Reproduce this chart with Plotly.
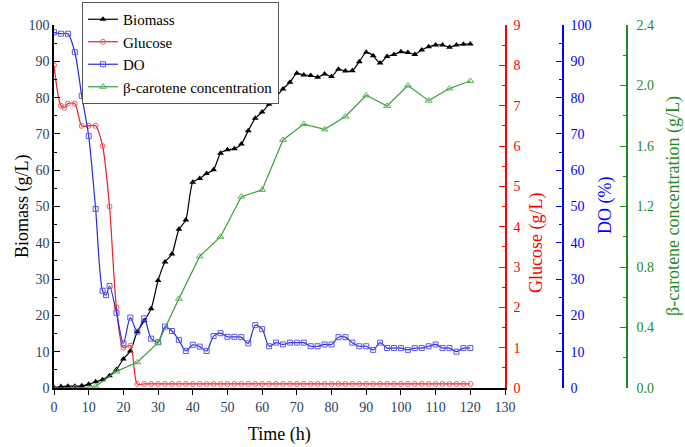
import plotly.graph_objects as go

# ---------------- data ----------------
biomass_t = [0, 2, 4, 6, 8, 10, 12, 14, 16, 18, 20, 22, 24, 26, 28, 30, 32, 34, 36, 38, 40,
             42, 44, 46, 48, 50, 52, 54, 56, 58, 60, 62, 64, 66, 68, 70, 72, 74, 76, 78, 80,
             82, 84, 86, 88, 90, 92, 94, 96, 98, 100, 102, 104, 106, 108, 110, 112, 114, 116, 118, 120]
biomass = [0.2, 0.4, 0.5, 0.5, 0.6, 1.0, 1.7, 2.3, 3.4, 5.1, 8.0, 10.2, 15.5, 18.5, 21.8, 29.6, 34.7, 36.9, 43.7, 46.3, 56.7,
           57.7, 59.1, 60.1, 64.7, 65.6, 65.9, 67.2, 70.9, 74.3, 76.0, 78.2, 80.2, 82.4, 84.2, 86.7, 86.2, 86.1, 85.6, 86.5, 85.8,
           87.8, 87.3, 87.4, 89.9, 92.5, 91.5, 89.5, 91.3, 91.9, 92.6, 92.4, 91.9, 93.1, 94.0, 94.5, 94.5, 93.9, 94.5, 94.7, 94.8]

glucose_t = [0, 2, 3, 4, 6, 8, 10, 12, 14, 16, 18, 20, 22, 24] + list(range(26, 121, 2))
glucose = [8.0, 7.0, 6.95, 7.05, 7.05, 6.5, 6.5, 6.5, 6.0, 4.5, 2.0, 1.0, 1.05, 0.1] + [0.1] * len(range(26, 121, 2))

do_t = [0, 2, 4, 6, 8, 10, 12, 14, 15, 16, 18, 20, 22, 24, 26, 28, 30, 32, 34, 36, 38, 40,
        42, 44, 46, 48, 50, 52, 54, 56, 58, 60, 62, 64, 66, 68, 70, 72, 74, 76, 78, 80,
        82, 84, 86, 88, 90, 92, 94, 96, 98, 100, 102, 104, 106, 108, 110, 112, 114, 116, 118, 120]
do = [98.0, 97.6, 97.6, 92.5, 80.5, 69.4, 49.3, 26.8, 25.6, 28.1, 20.7, 12.3, 19.4, 15.5, 19.2, 13.6, 12.6, 16.9, 15.7, 13.2, 10.2, 11.9,
      11.4, 10.2, 14.3, 15.1, 14.1, 14.1, 14.0, 12.3, 17.3, 16.2, 11.5, 12.5, 12.0, 12.5, 12.5, 12.5, 11.5, 11.5, 12.0, 12.0,
      14.0, 14.0, 12.5, 11.5, 11.5, 10.5, 12.5, 11.0, 11.0, 11.0, 10.5, 11.0, 11.0, 11.5, 12.0, 11.0, 11.0, 10.0, 11.0, 11.0]

carotene_t = [0, 6, 12, 18, 24, 30, 36, 42, 48, 54, 60, 66, 72, 78, 84, 90, 96, 102, 108, 114, 120]
carotene = [0.0, 0.0, 0.01, 0.11, 0.17, 0.30, 0.59, 0.87, 1.0, 1.265, 1.31, 1.64, 1.745, 1.71, 1.795, 1.935, 1.865, 2.0, 1.9, 1.98, 2.03]

x_ticks = list(range(0, 131, 10))

# ---------------- styling ----------------
FONT = "Liberation Serif"
RED = "#ff0000"
BLUE = "#0000ff"
GREEN = "#1f8a1f"

W, H = 685, 447
ML, MR, MT, MB = 54, 58, 1, 59
PW = W - ML - MR
PH = H - MT - MB
PLOT_TOP = 25
x_end = (505 - ML) / PW
y_top = (H - MB - PLOT_TOP) / PH
blue_pos = (563 - ML) / PW
green_pos = 1.0


def px_x(px):
    return (px - ML) / PW


def px_y(py):
    return (H - MB - py) / PH


fig = go.Figure()
fig.add_trace(go.Scatter(x=biomass_t, y=biomass, name="Biomass", mode="lines+markers",
                         line=dict(color="black", width=1.2, shape="spline", smoothing=0.6),
                         marker=dict(symbol="triangle-up", size=6, color="black"), yaxis="y"))
fig.add_trace(go.Scatter(x=glucose_t, y=glucose, name="Glucose", mode="lines+markers",
                         line=dict(color="#e8202a", width=1.2, shape="spline", smoothing=0.8),
                         marker=dict(symbol="circle-open", size=5, color="#e86060", line=dict(width=1)), yaxis="y2"))
fig.add_trace(go.Scatter(x=do_t, y=do, name="DO", mode="lines+markers",
                         line=dict(color="#2a2ae0", width=1.2, shape="spline", smoothing=0.8),
                         marker=dict(symbol="square-open", size=5, color="#5a5ae8", line=dict(width=1)), yaxis="y3"))
fig.add_trace(go.Scatter(x=carotene_t, y=carotene, name="β-carotene concentration", mode="lines+markers",
                         line=dict(color="#3a9e3a", width=1.2),
                         marker=dict(symbol="triangle-up-open", size=6, color="#5ab05a", line=dict(width=1)), yaxis="y4"))

tickfont = dict(family=FONT, size=14)

fig.update_layout(
    width=W, height=H,
    margin=dict(l=ML, r=MR, t=MT, b=MB, autoexpand=False),
    paper_bgcolor="white", plot_bgcolor="white",
    showlegend=True,
    legend=dict(x=px_x(82), y=px_y(2), xanchor="left", yanchor="top",
                bordercolor="#555555", borderwidth=1, bgcolor="white",
                font=dict(family=FONT, size=15, color="black"), itemwidth=30,
                tracegroupgap=0),
    xaxis=dict(domain=[0, x_end], range=[0, 130], tickvals=x_ticks, ticks="outside", ticklen=5,
               tickwidth=1.2, showline=True, linecolor="black", linewidth=1.5, mirror=False,
               showgrid=False, zeroline=False, tickfont=tickfont, tickcolor="black"),
    yaxis=dict(domain=[0, y_top], range=[0, 100], dtick=10, ticks="inside", ticklen=6, tickwidth=1.2,
               minor=dict(dtick=5, ticks="inside", ticklen=3, tickcolor="black"),
               showline=True, linecolor="black", linewidth=1.5, showgrid=False, zeroline=False,
               tickfont=tickfont, tickcolor="black"),
    yaxis2=dict(range=[0, 9], dtick=1, overlaying="y", side="right", anchor="x",
                ticks="inside", ticklen=6, tickwidth=1.2, tickcolor=RED,
                minor=dict(dtick=0.5, ticks="inside", ticklen=3, tickcolor=RED),
                showline=True, linecolor=RED, linewidth=1.5, showgrid=False, zeroline=False,
                tickfont=dict(family=FONT, size=14, color=RED), ticklabelstandoff=4),
    yaxis3=dict(range=[0, 100], dtick=10, overlaying="y", side="right", anchor="free", position=blue_pos,
                ticks="inside", ticklen=6, tickwidth=1.2, tickcolor=BLUE,
                minor=dict(dtick=5, ticks="inside", ticklen=3, tickcolor=BLUE),
                showline=True, linecolor=BLUE, linewidth=1.5, showgrid=False, zeroline=False,
                tickfont=dict(family=FONT, size=14, color=BLUE), ticklabelstandoff=4),
    yaxis4=dict(range=[0, 2.4], dtick=0.4, tickformat=".1f", overlaying="y", side="right", anchor="free",
                position=green_pos,
                ticks="inside", ticklen=6, tickwidth=1.2, tickcolor=GREEN,
                minor=dict(dtick=0.2, ticks="inside", ticklen=3, tickcolor=GREEN),
                showline=True, linecolor=GREEN, linewidth=1.5, showgrid=False, zeroline=False,
                tickfont=dict(family=FONT, size=14, color=GREEN), ticklabelstandoff=6),
)

title_font = 18


def add_title(text, px, py, color, angle):
    fig.add_annotation(text=text, x=px_x(px), y=px_y(py), xref="paper", yref="paper",
                       xanchor="center", yanchor="middle", textangle=angle, showarrow=False,
                       font=dict(family=FONT, size=title_font, color=color))


add_title("Biomass (g/L)", 22, 206, "black", -90)
add_title("Time (h)", 279, 434, "black", 0)
add_title("Glucose (g/L)", 537, 243, RED, -90)
add_title("DO (%)", 605, 206, BLUE, -90)
add_title("β-carotene concentration (g/L)", 673, 206, GREEN, -90)

fig.write_html("out.html", config={"displayModeBar": False},
               post_script="document.body.style.margin='0px';")
